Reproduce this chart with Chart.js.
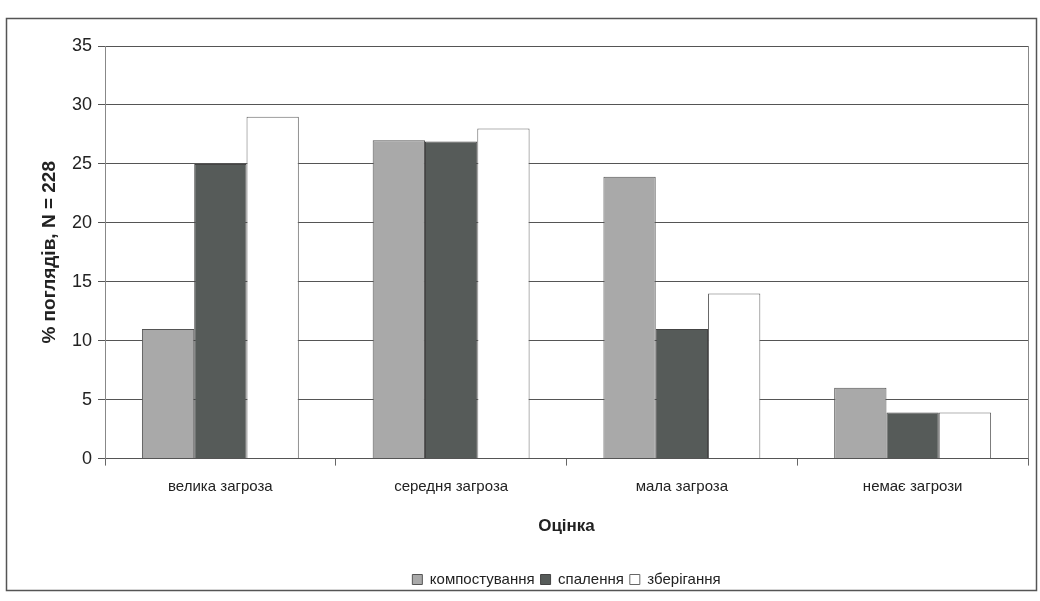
<!DOCTYPE html>
<html>
<head>
<meta charset="utf-8">
<script src="https://cdn.jsdelivr.net/npm/chart.js@4"></script>
<style>
  html, body { margin: 0; padding: 0; background: #fff; }
  #wrap { position: relative; width: 1040px; height: 601px; }
</style>
</head>
<body>
<div id="wrap"><canvas id="myBarChart" width="1040" height="601"></canvas></div>
<script>
// values
const categories = ['велика загроза', 'середня загроза', 'мала загроза', 'немає загрози'];
const kompostuvannya = [11.0, 27.0, 23.9, 6.0];
const spalennya = [25.0, 26.9, 11.0, 3.9];
const zberigannya = [29.0, 28.0, 14.0, 3.9];
const yTicks = [0, 5, 10, 15, 20, 25, 30, 35];

const fontFamily = '"Liberation Sans", Arial, sans-serif';

// outer frame and plot area border
const framePlugin = {
    id: 'frame',
    beforeDraw(chart) {
        const c = chart.ctx;
        c.save();
        c.fillStyle = '#fff';
        c.fillRect(0, 0, chart.width, chart.height);
        c.strokeStyle = '#555';
        c.lineWidth = 1.5;
        c.strokeRect(6.5, 18.5, 1030, 572);
        c.restore();
    },
    afterDraw(chart) {
        const a = chart.chartArea;
        const c = chart.ctx;
        c.save();
        c.strokeStyle = '#888';
        c.lineWidth = 1;
        c.beginPath();
        c.moveTo(Math.round(a.right) + 0.5, a.top);
        c.lineTo(Math.round(a.right) + 0.5, a.bottom);
        c.stroke();
        c.restore();
    }
};

const ctx = document.getElementById('myBarChart').getContext('2d');
const myChart = new Chart(ctx, {
    type: 'bar',
    data: {
        labels: categories,
        datasets: [{
            label: 'компостування',
            data: kompostuvannya,
            backgroundColor: '#a9a9a9',
            borderColor: '#555',
            borderWidth: 1
        }, {
            label: 'спалення',
            data: spalennya,
            backgroundColor: '#565b59',
            borderColor: '#444',
            borderWidth: 1
        }, {
            label: 'зберігання',
            data: zberigannya,
            backgroundColor: '#ffffff',
            borderColor: '#666',
            borderWidth: 1
        }]
    },
    options: {
        responsive: false,
        animation: false,
        categoryPercentage: 0.68,
        barPercentage: 1.0,
        layout: {
            padding: { left: 38, right: 12, top: 46, bottom: 4 }
        },
        plugins: {
            legend: {
                position: 'bottom',
                fullSize: false,
                labels: {
                    boxWidth: 10,
                    boxHeight: 10,
                    padding: 6,
                    color: '#222',
                    font: { family: fontFamily, size: 15 }
                }
            },
            tooltip: { enabled: false }
        },
        scales: {
            x: {
                grid: {
                    offset: true,
                    drawOnChartArea: false,
                    drawTicks: true,
                    tickLength: 7,
                    color: '#666'
                },
                border: { display: true, color: '#555' },
                ticks: {
                    color: '#222',
                    padding: 12,
                    font: { family: fontFamily, size: 15 }
                },
                title: {
                    display: true,
                    text: 'Оцінка',
                    color: '#222',
                    padding: { top: 9, bottom: 29 },
                    font: { family: fontFamily, size: 17, weight: 'bold' }
                }
            },
            y: {
                min: 0,
                max: 35,
                afterBuildTicks(scale) {
                    scale.ticks = yTicks.map(v => ({ value: v }));
                },
                afterFit(scale) {
                    scale.width = 67;
                },
                grid: {
                    color: '#555',
                    drawTicks: true,
                    tickLength: 7
                },
                border: { display: true, color: '#888' },
                ticks: {
                    color: '#222',
                    padding: 6,
                    font: { family: fontFamily, size: 18 }
                },
                title: {
                    display: true,
                    text: '% поглядів, N = 228',
                    color: '#222',
                    padding: { top: 0, bottom: 4 },
                    font: { family: fontFamily, size: 19, weight: 'bold' }
                }
            }
        }
    },
    plugins: [framePlugin]
});
</script>
</body>
</html>
